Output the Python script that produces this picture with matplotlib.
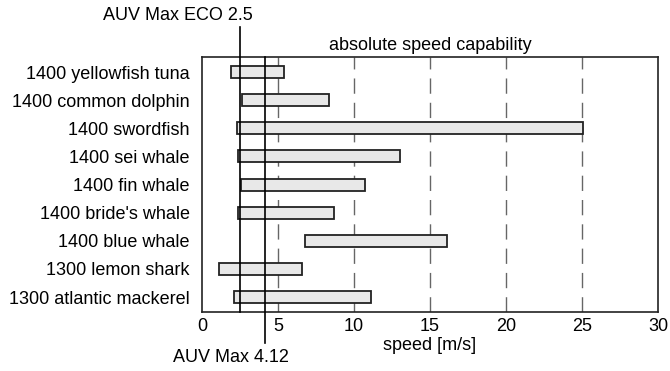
import matplotlib
matplotlib.use("Agg")
import matplotlib.pyplot as plt
import matplotlib.transforms as mtransforms

plt.rcParams['font.family'] = ['Liberation Sans', 'DejaVu Sans']

species = [
    "1400 yellowfish tuna",
    "1400 common dolphin",
    "1400 swordfish",
    "1400 sei whale",
    "1400 fin whale",
    "1400 bride's whale",
    "1400 blue whale",
    "1300 lemon shark",
    "1300 atlantic mackerel",
]
speed_min = [1.9, 2.6, 2.3, 2.4, 2.55, 2.35, 6.8, 1.15, 2.1]
speed_max = [5.4, 8.35, 25.1, 13.0, 10.7, 8.7, 16.1, 6.6, 11.1]
grid_ticks = [5, 10, 15, 20, 25]
auv_eco = 2.5
auv_max = 4.12

FS = 13

fig = plt.figure(figsize=(6.7, 3.71), dpi=100)
ax = fig.add_axes([0.3015, 0.159, 0.6805, 0.687])

ypos = list(range(len(species)))
widths = [hi - lo for lo, hi in zip(speed_min, speed_max)]
ax.barh(ypos, widths, left=speed_min, height=0.43, color="#e8e8e8",
        edgecolor="#222222", linewidth=1.3, zorder=2)

# dashed guide lines at each major speed step
for g in grid_ticks:
    ax.axvline(g, color="#666666", linewidth=1.0, dashes=(11, 6.5), zorder=1)

# AUV reference speeds, drawn past the axes frame towards their labels
trans = mtransforms.blended_transform_factory(ax.transData, ax.transAxes)
ax.plot([auv_eco, auv_eco], [0, 1.118], color="black", linewidth=1.2,
        transform=trans, clip_on=False, zorder=3)
ax.plot([auv_max, auv_max], [-0.122, 1], color="black", linewidth=1.2,
        transform=trans, clip_on=False, zorder=3)

ax.text(-1.6, 1.165, f"AUV Max ECO {auv_eco}", transform=trans,
        ha="center", va="center", fontsize=FS)
ax.text(1.9, -0.18, f"AUV Max {auv_max}", transform=trans,
        ha="center", va="center", fontsize=FS)

ax.set_xlim(0, 30)
ax.set_ylim(len(species) - 0.47, -0.53)
ax.set_yticks(ypos)
ax.set_yticklabels(species, fontsize=FS)
ax.set_xticks([0, 5, 10, 15, 20, 25, 30])
ax.tick_params(axis="both", length=0, labelsize=FS)
ax.tick_params(axis="x", pad=4)
ax.tick_params(axis="y", pad=9)
ax.set_xlabel("speed [m/s]", fontsize=FS, labelpad=2)
ax.set_title("absolute speed capability", fontsize=FS, pad=5)
for s in ax.spines.values():
    s.set_linewidth(1.2)
    s.set_color("#222222")

fig.savefig("out.png", dpi=100)
